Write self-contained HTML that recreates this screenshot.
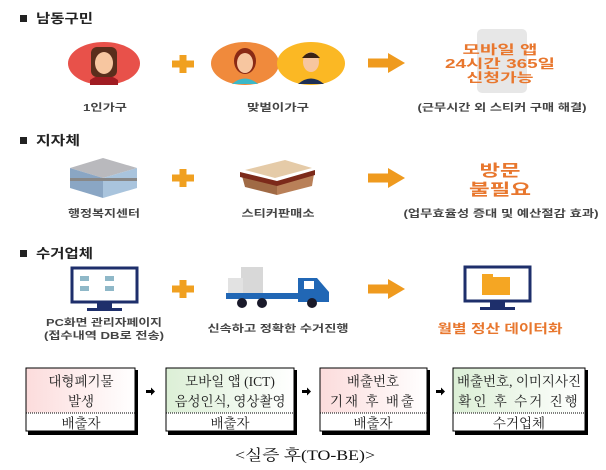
<!DOCTYPE html>
<html><head><meta charset="utf-8"><style>
html,body{margin:0;padding:0;background:#fff;width:606px;height:470px;overflow:hidden}
svg text{font-family:"Liberation Sans","Noto Sans CJK KR",sans-serif}
.s{font-family:"Liberation Serif","Noto Serif CJK SC",serif !important}
</style></head><body>
<svg width="606" height="470" viewBox="0 0 606 470" xmlns="http://www.w3.org/2000/svg">
<defs>
<linearGradient id="pk" x1="0" x2="1"><stop offset="0" stop-color="#fcdcdc"/><stop offset="1" stop-color="#fff"/></linearGradient>
<linearGradient id="gr" x1="0" x2="1"><stop offset="0" stop-color="#dcefd6"/><stop offset="1" stop-color="#fff"/></linearGradient>
<g id="plus"><rect x="-11" y="-3.5" width="22" height="7" fill="#f0a020"/><rect x="-3.5" y="-9" width="7" height="18" fill="#f0a020"/></g>
<g id="arr"><rect x="0" y="-4.5" width="22" height="9" fill="#ef9a1e"/><polygon points="20,-10 37,0 20,10" fill="#ef9a1e"/></g>
<g id="mon"><rect x="0" y="0" width="65" height="34" fill="#fff" stroke="#1e2f6b" stroke-width="3"/><rect x="25" y="35" width="15" height="6" fill="#1e2f6b"/><rect x="15" y="40" width="35" height="3" fill="#1e2f6b"/></g>
</defs>
<!-- headers -->
<rect x="20" y="15" width="7" height="7" fill="#222"/><text x="36" y="23" font-size="13" font-weight="bold" fill="#222" textLength="57" lengthAdjust="spacingAndGlyphs">남동구민</text>
<rect x="20" y="137" width="7" height="7" fill="#222"/><text x="36" y="145" font-size="13" font-weight="bold" fill="#222" textLength="44" lengthAdjust="spacingAndGlyphs">지자체</text>
<rect x="20" y="250" width="7" height="7" fill="#222"/><text x="36" y="258" font-size="13" font-weight="bold" fill="#222" textLength="57" lengthAdjust="spacingAndGlyphs">수거업체</text>

<!-- row 1 -->
<ellipse cx="104" cy="63.5" rx="36" ry="21.5" fill="#e8514a"/>
<path d="M90 80 Q104 70 118 80 L118 85 L90 85Z" fill="#a01c22"/>
<rect x="91" y="47" width="26" height="30" rx="6" fill="#5a2e1c"/>
<ellipse cx="104" cy="63" rx="9" ry="11" fill="#f7c6a0"/>
<use href="#plus" x="183" y="64"/>
<ellipse cx="245" cy="63.5" rx="34" ry="21.5" fill="#f08a3c"/>
<ellipse cx="311" cy="63.5" rx="34" ry="21.5" fill="#fbb824"/>
<path d="M232 84 Q245 73 258 84Z" fill="#3bb8c8"/>
<ellipse cx="245" cy="61" rx="11" ry="13" fill="#8a2a14"/><ellipse cx="245" cy="63" rx="8" ry="10" fill="#f7c6a0"/>
<path d="M298 84 Q311 73 324 84Z" fill="#1e2f55"/>
<ellipse cx="311" cy="62" rx="8" ry="10" fill="#f7c6a0"/><path d="M302 58 Q311 47 320 58 Z" fill="#3b2314"/>
<use href="#arr" x="368" y="63"/>
<rect x="477" y="29" width="50" height="64" rx="5" fill="#e7e7e7"/>
<g font-size="12.5" font-weight="bold" fill="#e8772e" text-anchor="middle">
<text x="500" y="54" textLength="75" lengthAdjust="spacingAndGlyphs">모바일 앱</text><text x="500" y="68" textLength="110" lengthAdjust="spacingAndGlyphs">24시간 365일</text><text x="500" y="82" textLength="67" lengthAdjust="spacingAndGlyphs">신청가능</text></g>
<g font-size="10" font-weight="bold" fill="#444" text-anchor="middle">
<text x="105" y="111" textLength="44" lengthAdjust="spacingAndGlyphs">1인가구</text><text x="278" y="111" textLength="62" lengthAdjust="spacingAndGlyphs">맞벌이가구</text><text x="502" y="111" textLength="169" lengthAdjust="spacingAndGlyphs">(근무시간 외 스티커 구매 해결)</text></g>

<!-- row 2 -->
<polygon points="70,168 103,158 137,168 103,178" fill="#b9b9bd"/>
<polygon points="70,168 103,178 103,198 70,188" fill="#8aa6c4"/>
<polygon points="103,178 137,168 137,188 103,198" fill="#a9c4dd"/>
<rect x="70" y="178" width="67" height="3" fill="#888"/>
<use href="#plus" x="183" y="178"/>
<polygon points="245,170 285,160 312,168 275,178" fill="#e5cba8"/>
<polygon points="242,176 277,184 277,195 245,187" fill="#a06a45"/>
<polygon points="277,184 314,174 312,186 277,195" fill="#b98058"/>
<polygon points="240,172 277,181 315,170 315,175 277,186 240,177" fill="#7c2a1a"/>
<use href="#arr" x="368" y="178"/>
<g font-size="16" font-weight="bold" fill="#e8772e" text-anchor="middle"><text x="500" y="176" textLength="41" lengthAdjust="spacingAndGlyphs">방문</text><text x="500" y="195" textLength="62" lengthAdjust="spacingAndGlyphs">불필요</text></g>
<g font-size="10" font-weight="bold" fill="#444" text-anchor="middle">
<text x="104" y="217" textLength="72" lengthAdjust="spacingAndGlyphs">행정복지센터</text><text x="278" y="217" textLength="73" lengthAdjust="spacingAndGlyphs">스티커판매소</text><text x="501" y="217" textLength="195" lengthAdjust="spacingAndGlyphs">(업무효율성 증대 및 예산절감 효과)</text></g>

<!-- row 3 -->
<use href="#mon" x="72" y="268"/>
<rect x="80" y="276" width="9" height="5" fill="#8fb8c8"/><rect x="105" y="276" width="9" height="5" fill="#8fb8c8"/>
<rect x="80" y="286" width="9" height="5" fill="#8fb8c8"/><rect x="105" y="286" width="9" height="5" fill="#8fb8c8"/>
<use href="#plus" x="183" y="289"/>
<rect x="241" y="267" width="22" height="28" fill="#d8d8d8"/><rect x="228" y="278" width="15" height="16" fill="#e2e2e2"/>
<rect x="226" y="293" width="75" height="6" fill="#2167b5"/>
<path d="M298 278 L317 278 L329 292 L329 302 L298 302Z" fill="#2167b5"/><rect x="304" y="281" width="10" height="8" fill="#fff"/>
<circle cx="242" cy="303" r="5" fill="#1a1a2a"/><circle cx="262" cy="303" r="5" fill="#1a1a2a"/><circle cx="312" cy="303" r="5" fill="#1a1a2a"/>
<use href="#arr" x="368" y="289"/>
<use href="#mon" x="465" y="267"/>
<rect x="482" y="277" width="28" height="18" fill="#f5a623"/><rect x="482" y="274" width="11" height="4" fill="#f5a623"/>
<g font-size="10" font-weight="bold" fill="#444" text-anchor="middle">
<text x="104" y="326" textLength="116" lengthAdjust="spacingAndGlyphs">PC화면 관리자페이지</text><text x="104" y="339" textLength="120" lengthAdjust="spacingAndGlyphs">(접수내역 DB로 전송)</text>
<text x="278" y="332" textLength="141" lengthAdjust="spacingAndGlyphs">신속하고 정확한 수거진행</text></g>
<text x="500" y="333" font-size="12.5" font-weight="bold" fill="#e8772e" text-anchor="middle" textLength="125" lengthAdjust="spacingAndGlyphs">월별 정산 데이터화</text>

<!-- boxes -->
<g stroke="#000">
<rect x="28" y="370" width="110" height="65" fill="#000" stroke="none"/>
<rect x="26" y="368" width="109" height="63" fill="#fff" stroke-width="1"/>
<rect x="26.5" y="368.5" width="108" height="44" fill="url(#pk)" stroke="none"/>
<line x1="26" y1="413" x2="135" y2="413" stroke-dasharray="1,1"/>

<rect x="168" y="370" width="129" height="65" fill="#000" stroke="none"/>
<rect x="166" y="368" width="128" height="63" fill="#fff" stroke-width="1"/>
<rect x="166.5" y="368.5" width="127" height="44" fill="url(#gr)" stroke="none"/>
<line x1="166" y1="413" x2="294" y2="413" stroke-dasharray="1,1"/>

<rect x="322" y="370" width="108" height="65" fill="#000" stroke="none"/>
<rect x="320" y="368" width="107" height="63" fill="#fff" stroke-width="1"/>
<rect x="320.5" y="368.5" width="106" height="44" fill="url(#pk)" stroke="none"/>
<line x1="320" y1="413" x2="427" y2="413" stroke-dasharray="1,1"/>

<rect x="455" y="370" width="133" height="65" fill="#000" stroke="none"/>
<rect x="453" y="368" width="132" height="63" fill="#fff" stroke-width="1"/>
<rect x="453.5" y="368.5" width="131" height="44" fill="url(#gr)" stroke="none"/>
<line x1="453" y1="413" x2="585" y2="413" stroke-dasharray="1,1"/>
</g>
<g font-size="13.5" fill="#222" text-anchor="middle" class="s">
<text class="s" x="81" y="386">대형폐기물</text><text class="s" x="81" y="406">발생</text><text class="s" x="81" y="428">배출자</text>
<text class="s" x="230" y="386">모바일 앱 (ICT)</text><text class="s" x="230" y="406">음성인식, 영상촬영</text><text class="s" x="230" y="428">배출자</text>
<text class="s" x="373" y="386">배출번호</text><text class="s" x="373" y="406" letter-spacing="2">기재 후 배출</text><text class="s" x="373" y="428">배출자</text>
<text class="s" x="519" y="386">배출번호, 이미지사진</text><text class="s" x="519" y="406" letter-spacing="2">확인 후 수거 진행</text><text class="s" x="519" y="428">수거업체</text>
</g>
<g fill="#000"><path d="M146 390h5v-2.5l4 4-4 4v-2.5h-5z"/><path d="M302 390h5v-2.5l4 4-4 4v-2.5h-5z"/><path d="M436 390h5v-2.5l4 4-4 4v-2.5h-5z"/></g>
<text class="s" x="305" y="460" font-size="15" fill="#111" text-anchor="middle" textLength="140" lengthAdjust="spacingAndGlyphs">&lt;실증 후(TO-BE)&gt;</text>
</svg>
</body></html>
